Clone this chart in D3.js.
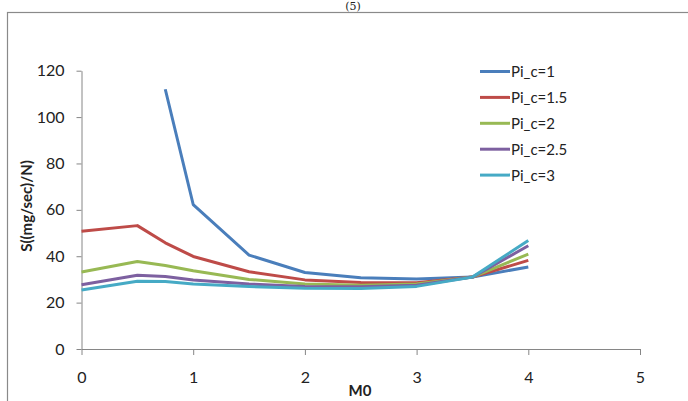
<!DOCTYPE html>
<html lang="en">
<head>
<meta charset="UTF-8">
<title>S vs M0</title>
<script src="https://cdn.jsdelivr.net/npm/d3@7"></script>
<style>
  body { margin: 0; background: #fff; }
  svg { display: block; }
  text { font-family: Lato, "Open Sans", sans-serif; fill: #222; }
</style>
</head>
<body>
<svg width="688" height="401"></svg>
<script>
// data
var mValues = [0, 0.5, 0.75, 1, 1.5, 2, 2.5, 3, 3.5, 4];
var pic1   = [null, null, 112, 62.3, 40.5, 33, 30.7, 30.2, 31, 35.4];
var pic1_5 = [50.8, 53.2, 45.8, 39.9, 33.3, 29.8, 28.7, 28.6, 31, 38.2];
var pic2   = [33.2, 37.7, 36, 33.7, 30, 28, 27.5, 28, 31, 40.9];
var pic2_5 = [27.7, 31.8, 31.3, 29.8, 28, 27, 26.8, 27.5, 31, 44.5];
var pic3   = [25.4, 29.2, 29.1, 28, 26.9, 26.2, 26.1, 27, 31, 46.8];
var seriesNames = ["Pi_c=1", "Pi_c=1.5", "Pi_c=2", "Pi_c=2.5", "Pi_c=3"];
var colors = ["#4a7ebb", "#be4b48", "#98b954", "#7d60a0", "#46aac5"];
var yTicks = [0, 20, 40, 60, 80, 100, 120];
var xTicks = [0, 1, 2, 3, 4, 5];

var allSeries = [pic1, pic1_5, pic2, pic2_5, pic3];

var svg = d3.select("svg");

// outer frame (runs off the right and bottom like the scan)
svg.append("rect")
  .attr("x", 7.5).attr("y", 12.5)
  .attr("width", 700).attr("height", 400)
  .attr("fill", "none").attr("stroke", "#8a8a8a").attr("stroke-width", 1.2);

// figure label above the frame
svg.append("text")
  .attr("x", 353).attr("y", 10)
  .attr("text-anchor", "middle")
  .style("font-family", "'DejaVu Serif', serif")
  .style("font-size", "11px")
  .text("(5)");

var x = d3.scaleLinear().domain([0, 5]).range([81.5, 640]);
var y = d3.scaleLinear().domain([0, 120]).range([349, 70.7]);

var xAxis = d3.axisBottom(x).tickValues(xTicks).tickFormat(d3.format("d"))
  .tickSize(6).tickSizeOuter(0).tickPadding(17);
var yAxis = d3.axisLeft(y).tickValues(yTicks).tickFormat(d3.format("d"))
  .tickSize(5).tickSizeOuter(0).tickPadding(12);

var gx = svg.append("g").attr("transform", "translate(0," + y(0) + ")").call(xAxis);
var gy = svg.append("g").attr("transform", "translate(" + x(0) + ",0)").call(yAxis);

[gx, gy].forEach(function(g) {
  g.select(".domain").attr("stroke", "#868686");
  g.selectAll(".tick line").attr("stroke", "#868686");
  g.selectAll(".tick text").style("font-size", "16px").attr("fill", "#222");
});

// axis titles
svg.append("text")
  .attr("x", 360).attr("y", 396)
  .attr("text-anchor", "middle")
  .style("font-size", "15px").style("font-weight", "bold")
  .text("M0");

svg.append("text")
  .attr("transform", "translate(32,206) rotate(-90)")
  .attr("text-anchor", "middle")
  .style("font-size", "15px").style("font-weight", "bold")
  .text("S((mg/sec)/N)");

// lines
var line = d3.line()
  .defined(function(d) { return d[1] != null; })
  .x(function(d) { return x(d[0]); })
  .y(function(d) { return y(d[1]); });

allSeries.forEach(function(vals, i) {
  var pts = mValues.map(function(m, j) { return [m, vals[j]]; });
  svg.append("path")
    .datum(pts)
    .attr("d", line)
    .attr("fill", "none")
    .attr("stroke", colors[i])
    .attr("stroke-width", 3)
    .attr("stroke-linejoin", "round");
});

// legend
var legend = svg.append("g").attr("transform", "translate(480,71.5)");
var items = legend.selectAll("g").data(seriesNames).enter().append("g")
  .attr("transform", function(d, i) { return "translate(0," + (i * 25.9) + ")"; });
items.append("line")
  .attr("x1", 0).attr("x2", 30).attr("y1", 0).attr("y2", 0)
  .attr("stroke", function(d, i) { return colors[i]; })
  .attr("stroke-width", 3);
items.append("text")
  .attr("x", 31).attr("y", 5.5)
  .style("font-size", "15px")
  .text(function(d) { return d; });
</script>
</body>
</html>
